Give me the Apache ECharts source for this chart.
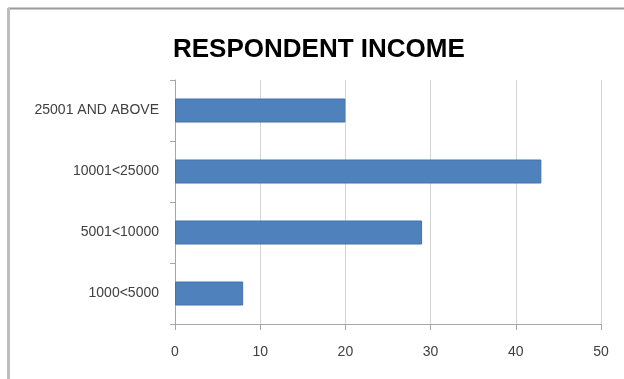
<!DOCTYPE html>
<html><head><meta charset="utf-8">
<script src="https://cdn.jsdelivr.net/npm/echarts@6/dist/echarts.min.js"></script>
<style>html,body{margin:0;padding:0;background:#fff}#c{width:624px;height:379px}</style>
</head><body><div id="c"></div>
<script>
const categories = ["1000<5000", "5001<10000", "10001<25000", "25001 AND ABOVE"];
const values = [8, 29, 43, 20];
const titleText = "RESPONDENT INCOME";
const xMin = 0, xMax = 50, xStep = 10;

const chart = echarts.init(document.getElementById('c'), null, {renderer: 'canvas'});
chart.setOption({
  animation: false,
  backgroundColor: '#ffffff',
  title: {
    text: titleText, left: 168, top: 32,
    textStyle: {fontFamily: 'Liberation Sans', fontWeight: 'bold', fontSize: 26, color: '#000'}
  },
  graphic: [
    {type: 'line', shape: {x1: 8, y1: 8.5, x2: 624, y2: 8.5}, style: {stroke: '#9a9a9a', lineWidth: 2}},
    {type: 'line', shape: {x1: 8.5, y1: 8, x2: 8.5, y2: 379}, style: {stroke: '#bdbdbd', lineWidth: 3}}
  ],
  grid: {left: 175, right: 23, top: 80, bottom: 55},
  xAxis: {
    type: 'value', min: xMin, max: xMax, interval: xStep,
    axisLine: {show: true, lineStyle: {color: '#a6a6a6'}},
    axisTick: {show: true, length: 6, lineStyle: {color: '#a6a6a6'}},
    splitLine: {show: true, lineStyle: {color: '#d4d4d4', width: 1}},
    axisLabel: {fontFamily: 'Liberation Sans', fontSize: 14, color: '#404040', margin: 21}
  },
  yAxis: {
    type: 'category', data: categories,
    axisLine: {show: true, lineStyle: {color: '#a6a6a6'}},
    axisTick: {show: true, length: 5, inside: false, lineStyle: {color: '#a6a6a6'}},
    axisLabel: {fontFamily: 'Liberation Sans', fontSize: 14, color: '#404040', margin: 16}
  },
  series: [{
    type: 'bar', data: values, barWidth: 24,
    itemStyle: {color: '#4f81bd', borderColor: '#4473ab', borderWidth: 1}
  }]
});
</script></body></html>
